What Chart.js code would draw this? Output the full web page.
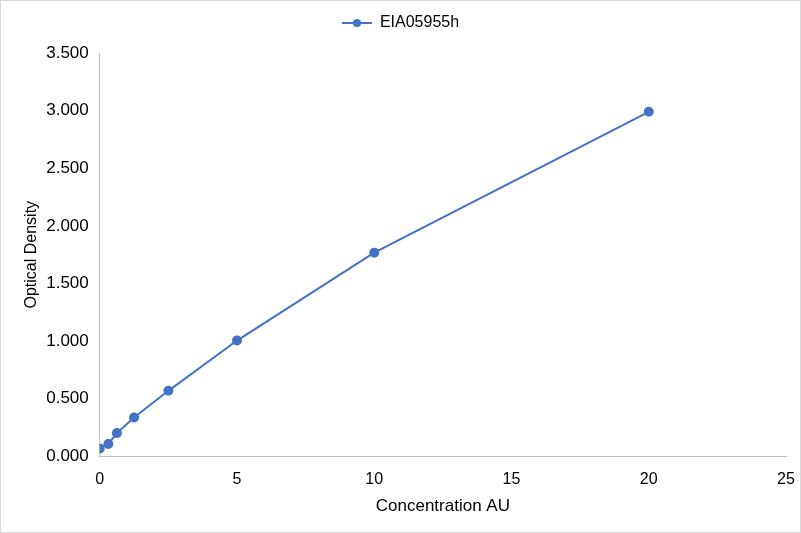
<!DOCTYPE html>
<html>
<head>
<meta charset="utf-8">
<script src="https://cdn.jsdelivr.net/npm/chart.js@4"></script>
<style>
  html, body { margin: 0; padding: 0; background: #fff; }
  #wrap { position: relative; width: 799px; height: 531px; border: 1px solid #d9d9d9; }
</style>
</head>
<body>
<div id="wrap"><canvas id="chart"></canvas></div>
<script>
// Standard curve values
const concentrations = [0, 0.3125, 0.625, 1.25, 2.5, 5, 10, 20];
const densities = [0.068, 0.108, 0.202, 0.338, 0.569, 1.005, 1.768, 2.99];
const seriesName = "EIA05955h";

const lineColor = "#4472c4";
const points = concentrations.map((x, i) => ({ x: x, y: densities[i] }));

// legend marker: short line with a dot in the middle
const legendMark = document.createElement("canvas");
legendMark.width = 30;
legendMark.height = 10;
const lm = legendMark.getContext("2d");
lm.strokeStyle = lineColor;
lm.lineWidth = 2;
lm.beginPath();
lm.moveTo(0, 5);
lm.lineTo(30, 5);
lm.stroke();
lm.fillStyle = lineColor;
lm.beginPath();
lm.arc(15, 5, 4, 0, Math.PI * 2);
lm.fill();

// extra space under the legend
const legendGap = {
  id: "legendGap",
  beforeInit(chart) {
    const fit = chart.legend.fit;
    chart.legend.fit = function () {
      fit.bind(chart.legend)();
      this.height += 12;
    };
  },
};

Chart.defaults.font.family = "'Liberation Sans', Arial, sans-serif";
Chart.defaults.color = "#000";

new Chart(document.getElementById("chart"), {
  type: "scatter",
  data: {
    datasets: [
      {
        label: seriesName,
        data: points,
        showLine: true,
        borderColor: lineColor,
        backgroundColor: lineColor,
        borderWidth: 2,
        pointRadius: 4,
        pointHoverRadius: 4,
        pointStyle: "circle",
      },
    ],
  },
  options: {
    responsive: true,
    maintainAspectRatio: false,
    animation: false,
    layout: { padding: { left: 0, right: 0, top: 0, bottom: 15 } },
    plugins: {
      legend: {
        position: "top",
        labels: {
          usePointStyle: true,
          pointStyleWidth: 30,
          generateLabels: (chart) => [
            {
              text: seriesName,
              pointStyle: legendMark,
              fillStyle: lineColor,
              strokeStyle: lineColor,
              lineWidth: 0,
              datasetIndex: 0,
              fontColor: "#000",
            },
          ],
          font: { size: 16 },
          padding: 14,
          color: "#000",
        },
      },
      tooltip: { enabled: false },
    },
    scales: {
      x: {
        type: "linear",
        min: 0,
        max: 25,
        ticks: { stepSize: 5, font: { size: 16 }, padding: 14 },
        grid: { display: false, drawTicks: false },
        border: { color: "#bfbfbf", width: 1 },
        title: { display: true, text: "Concentration AU", font: { size: 17 }, padding: { top: -7, bottom: 0 } },
        // fixed right gap instead of label width + tick padding
        afterFit: (scale) => {
          scale.paddingRight = 14;
        },
      },
      y: {
        min: 0,
        max: 3.5,
        ticks: {
          stepSize: 0.5,
          font: { size: 17 },
          padding: 11,
          callback: (v) => v.toFixed(3),
        },
        grid: { display: false, drawTicks: false },
        border: { color: "#bfbfbf", width: 1 },
        title: { display: true, text: "Optical Density", font: { size: 16 }, padding: { top: 21, bottom: -6 } },
      },
    },
  },
  plugins: [legendGap],
});
</script>
</body>
</html>
